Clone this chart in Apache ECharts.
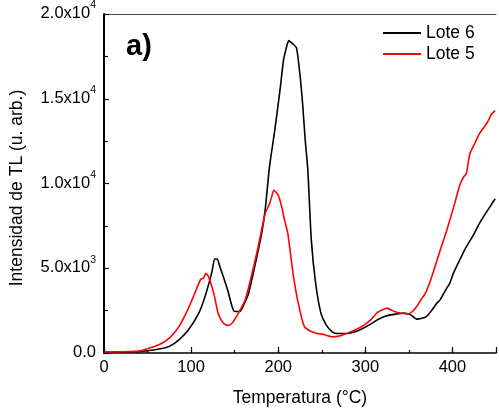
<!DOCTYPE html>
<html>
<head>
<meta charset="utf-8">
<script src="https://cdn.jsdelivr.net/npm/echarts@6/dist/echarts.min.js"></script>
<style>
html,body{margin:0;padding:0;background:#fff;}
#chart{width:499px;height:414px;}
</style>
</head>
<body>
<div id="chart"></div>
<script>
// Lote 6 (black)
var lote6T = [0, 20, 40, 52, 65, 75, 86, 97, 109, 116, 124, 127, 130, 133, 137, 142, 147, 150, 156, 160, 166, 173, 181, 185, 190, 196, 202, 206, 209, 212, 214, 217, 221, 225, 228, 231, 234, 238, 243, 249, 255, 262, 268, 275, 283, 290, 298, 306, 314, 322, 329, 336, 344, 352, 359, 365, 370, 376, 382, 386, 392, 397, 401, 408, 416, 424, 431, 437, 443, 449];
var lote6V = [50, 60, 80, 150, 250, 390, 780, 1370, 2370, 3330, 4800, 5550, 5550, 5100, 4500, 3700, 2750, 2450, 2450, 2800, 3530, 5100, 7060, 8430, 11000, 13130, 15490, 17250, 17940, 18430, 18350, 18230, 18000, 16400, 14700, 12550, 10780, 6660, 4100, 2350, 1660, 1250, 1150, 1150, 1180, 1280, 1470, 1700, 1960, 2150, 2250, 2300, 2350, 2250, 2000, 2050, 2150, 2500, 2940, 3150, 3700, 4120, 4700, 5450, 6270, 6950, 7650, 8150, 8620, 9100];
// Lote 5 (red)
var lote5T = [0, 20, 40, 52, 63, 75, 86, 97, 105, 111, 114, 117, 120, 126, 131, 137, 143, 147, 152, 157, 162, 170, 177, 185, 190, 193, 195, 200, 204, 207, 211, 217, 223, 230, 238, 245, 253, 262, 270, 280, 290, 299, 307, 314, 320, 325, 331, 337, 344, 350, 355, 359, 364, 369, 375, 380, 386, 392, 397, 403, 409, 413, 416, 420, 426, 431, 436, 440, 445, 449];
var lote5V = [60, 70, 110, 290, 490, 880, 1560, 2650, 3620, 4350, 4400, 4700, 4500, 3530, 2350, 1760, 1620, 1750, 2150, 2600, 3130, 4700, 6270, 8230, 8800, 9300, 9600, 9310, 8620, 7900, 7060, 4700, 2940, 1560, 1270, 1150, 1080, 950, 1000, 1180, 1400, 1660, 2000, 2390, 2550, 2650, 2500, 2390, 2330, 2310, 2500, 2740, 3150, 3530, 4310, 5100, 6080, 7000, 7840, 8900, 10000, 10400, 10590, 11760, 12400, 12940, 13300, 13600, 14100, 14300];

var seriesNames = ['Lote 6', 'Lote 5'];
var yTickMant = ['0.0', '5.0x10', '1.0x10', '1.5x10', '2.0x10'];
var yTickExp = ['', '3', '4', '4', '4'];
var xTickLabels = ['0', '100', '200', '300', '400'];

function pairs(t, v) { return t.map(function (x, i) { return [x, v[i]]; }); }

var FONT = 'Arial, "Liberation Sans", sans-serif';
var chart = echarts.init(document.getElementById('chart'));
chart.setOption({
  animation: false,
  backgroundColor: '#fff',
  textStyle: { fontFamily: FONT, color: '#000' },
  grid: { left: 104, right: 0, top: 14, bottom: 61, containLabel: false },
  legend: {
    orient: 'vertical', left: 378, top: 19,
    icon: 'rect', itemWidth: 38, itemHeight: 2, itemGap: 3,
    data: seriesNames,
    textStyle: { fontSize: 17.5, color: '#000', fontFamily: FONT }
  },
  graphic: [{
    type: 'text', left: 126, top: 32,
    style: { text: 'a)', font: 'bold 29px ' + FONT, fill: '#000' }
  }],
  xAxis: [{
    type: 'value', min: 0, max: 450, interval: 100, position: 'bottom',
    name: 'Temperatura (°C)', nameLocation: 'middle', nameGap: 36,
    nameTextStyle: { fontSize: 17.5, color: '#000', fontFamily: FONT },
    axisLine: { show: true, onZero: false, lineStyle: { color: '#000', width: 1.5 } },
    axisTick: { show: true, inside: true, length: 6, lineStyle: { color: '#000', width: 1.2 } },
    axisLabel: { fontSize: 16.5, color: '#000', margin: 6, fontFamily: FONT,
      formatter: function (v, i) { return v % 100 === 0 ? xTickLabels[v / 100] : ''; } },
    splitLine: { show: false }
  }, {
    type: 'value', min: 0, max: 450, interval: 50, position: 'bottom',
    axisLine: { show: false },
    axisTick: { show: true, inside: true, length: 3, lineStyle: { color: '#000', width: 1.2 } },
    axisLabel: { show: false }, splitLine: { show: false }
  }, {
    type: 'value', min: 0, max: 450, position: 'top',
    axisLine: { show: true, onZero: false, lineStyle: { color: '#444', width: 1 } },
    axisTick: { show: false }, axisLabel: { show: false }, splitLine: { show: false }
  }],
  yAxis: {
    type: 'value', min: 0, max: 20000, interval: 5000,
    name: 'Intensidad de TL (u. arb.)', nameLocation: 'middle', nameGap: 78,
    nameTextStyle: { fontSize: 17.5, color: '#000', fontFamily: FONT, padding: [0, 9, 0, 0] },
    axisLine: { show: true, lineStyle: { color: '#000', width: 2 } },
    axisTick: { show: true, inside: true, length: 5, lineStyle: { color: '#000', width: 1.2 } },
    minorTick: { show: true, splitNumber: 2, length: 4, lineStyle: { color: '#000', width: 1.2 } },
    axisLabel: {
      margin: 8, color: '#000',
      formatter: function (v, i) {
        var k = Math.round(v / 5000);
        return yTickExp[k] ? '{m|' + yTickMant[k] + '}{e|' + yTickExp[k] + '}' : '{m|' + yTickMant[k] + '}';
      },
      rich: {
        m: { fontSize: 16.5, fontFamily: FONT, color: '#000', verticalAlign: 'bottom', lineHeight: 16 },
        e: { fontSize: 10.5, fontFamily: FONT, color: '#000', verticalAlign: 'bottom', lineHeight: 10, padding: [0, 0, 11, 0] }
      }
    },
    splitLine: { show: false }
  },
  series: [{
    name: 'Lote 6', type: 'line', xAxisIndex: 0, data: pairs(lote6T, lote6V),
    showSymbol: false, symbol: 'none', smooth: 0.2,
    lineStyle: { color: '#000', width: 1.6 }, itemStyle: { color: '#000' }
  }, {
    name: 'Lote 5', type: 'line', xAxisIndex: 0, data: pairs(lote5T, lote5V),
    showSymbol: false, symbol: 'none', smooth: 0.2,
    lineStyle: { color: '#ff0000', width: 1.6 }, itemStyle: { color: '#ff0000' }
  }]
});
</script>
</body>
</html>
